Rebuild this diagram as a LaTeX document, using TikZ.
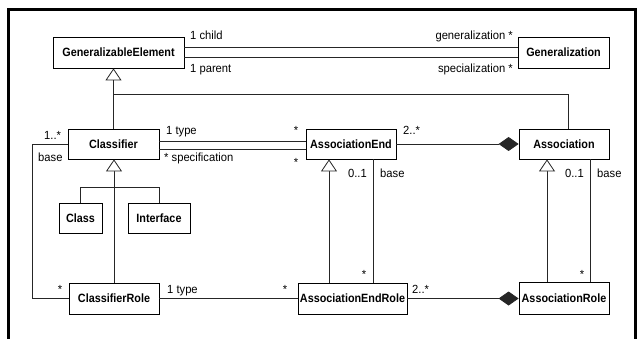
\documentclass[tikz,border=0pt]{standalone}
\usepackage{fontspec}
\setmainfont{Liberation Sans}
\newfontfamily\boxfont[FakeStretch=0.9]{Liberation Sans}
\newfontfamily\lblfont[FakeStretch=0.95]{Liberation Sans}
\usetikzlibrary{arrows.meta,calc}
\tikzset{
  cls/.style={draw, line width=0.8pt, inner sep=0pt, font=\boxfont\fontsize{12}{14}\selectfont\bfseries},
  lbl/.style={inner sep=0pt, font=\lblfont\fontsize{11.8}{14}\selectfont},
  conn/.style={line width=0.8pt, draw=black!85},
  gen/.style={conn, -{Triangle[open, length=12pt, width=16pt, fill=white]}},
  comp/.style={conn, -{Diamond[length=20pt, width=14pt]}},
}
\begin{document}
\begin{tikzpicture}[x=1pt, y=-1pt]
\useasboundingbox (0,0) rectangle (644,339);
\draw[line width=3pt] (8.7,339) -- (8.7,9.7) -- (635,9.7) -- (635,339);

% classes
\node[cls, minimum width=131pt, minimum height=31pt] (GE) at (118.5,52.5) {GeneralizableElement};
\node[cls, minimum width=91pt, minimum height=31pt] (Gen) at (563.5,52.5) {Generalization};
\node[cls, minimum width=91pt, minimum height=30pt] (Clf) at (113.5,144) {Classifier};
\node[cls, minimum width=90pt, minimum height=30pt] (AE) at (351,144) {AssociationEnd};
\node[cls, minimum width=90pt, minimum height=30pt] (As) at (564,144) {Association};
\node[cls, minimum width=43pt, minimum height=30pt] (Cl) at (80.5,218) {Class};
\node[cls, minimum width=62pt, minimum height=30pt] (If) at (159,218) {Interface};
\node[cls, minimum width=90pt, minimum height=31pt] (CR) at (114,298.5) {ClassifierRole};
\node[cls, minimum width=109pt, minimum height=31pt] (AER) at (352.5,298.5) {AssociationEndRole};
\node[cls, minimum width=90pt, minimum height=32pt] (AR) at (564,298.5) {AssociationRole};

\coordinate (j1) at (113.5,94);

% GE - Generalization double association
\draw[conn] ([yshift=5pt]GE.east) -- ([yshift=5pt]GE.east -| Gen.west);
\draw[conn] ([yshift=-5pt]GE.east) -- ([yshift=-5pt]GE.east -| Gen.west);

% generalizations
\draw[gen] (Clf.north) -- (Clf.north |- GE.south);
\draw[conn] ([xshift=4pt]As.north) -- ([xshift=4pt]As.north |- j1) -- (j1);
\draw[gen] (CR.north) -- (CR.north |- Clf.south);
\draw[conn] (Cl.north) -- ++(0,-15) -| (If.north);
\draw[gen] ([xshift=-22pt]AE.south |- AER.north) -- ([xshift=-22pt]AE.south);
\draw[gen] ([xshift=-17pt]As.south |- AR.north) -- ([xshift=-17pt]As.south);

% base associations
\draw[conn] (Clf.west) -- ++(-35,0) |- (CR.west);
\draw[conn] ([xshift=22pt]AE.south) -- ([xshift=22pt]AE.south |- AER.north);
\draw[conn] ([xshift=26pt]As.south) -- ([xshift=26pt]As.south |- AR.north);

% Classifier - AssociationEnd
\draw[conn] ([yshift=3pt]Clf.east) -- ([yshift=3pt]Clf.east -| AE.west);
\draw[conn] ([yshift=-5pt]Clf.east) -- ([yshift=-5pt]Clf.east -| AE.west);

% type
\draw[conn] (CR.east) -- (AER.west);

% compositions
\draw[comp] (AE.east) -- (As.west);
\draw[comp] (AER.east) -- (AR.west);

% labels
\node[lbl, anchor=base west] (t1) at (190,40) {1 child};
\node[lbl, anchor=base west] (t2) at (190,73) {1 parent};
\node[lbl, anchor=base east] (t3) at (513,40) {generalization *};
\node[lbl, anchor=base east] (t4) at (513,73) {specialization *};
\node[lbl, anchor=base west] (t5) at (166,135) {1 type};
\node[lbl, anchor=base west] (t6) at (164,161.5) {* specification};
\node[lbl, anchor=base] (t7) at (296,135) {*};
\node[lbl, anchor=base] (t8) at (296,167) {*};
\node[lbl, anchor=base west] (t9) at (44,140) {1..*};
\node[lbl, anchor=base west] (t10) at (38,161.5) {base};
\node[lbl, anchor=base west] (t11) at (403,135) {2..*};
\node[lbl, anchor=base east] (t12) at (367,177) {0..1};
\node[lbl, anchor=base west] (t13) at (380,177) {base};
\node[lbl, anchor=base] (t14) at (364,278) {*};
\node[lbl, anchor=base east] (t15) at (584,177) {0..1};
\node[lbl, anchor=base west] (t16) at (597,177) {base};
\node[lbl, anchor=base] (t17) at (582,278) {*};
\node[lbl, anchor=base west] (t18) at (167,293) {1 type};
\node[lbl, anchor=base] (t19) at (285,293) {*};
\node[lbl, anchor=base] (t20) at (60,293) {*};
\node[lbl, anchor=base west] (t21) at (412,293) {2..*};
\end{tikzpicture}
\end{document}
